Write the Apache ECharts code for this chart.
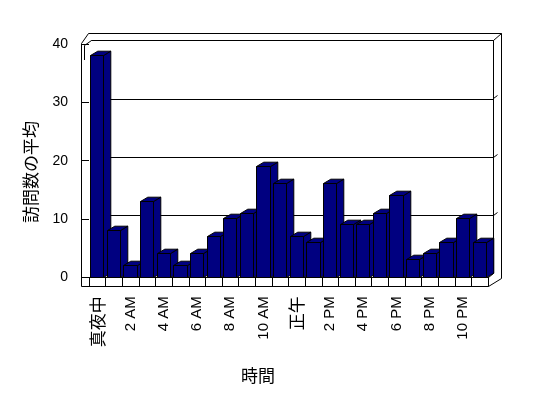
<!DOCTYPE html>
<html>
<head>
<meta charset="utf-8">
<script src="https://cdn.jsdelivr.net/npm/echarts@6/dist/echarts.min.js"></script>
<style>
html,body{margin:0;padding:0;background:#fff;}
#chart{width:548px;height:398px;}
</style>
</head>
<body>
<div id="chart"></div>
<script>
var categories = ['真夜中','1 AM','2 AM','3 AM','4 AM','5 AM','6 AM','7 AM','8 AM','9 AM','10 AM','11 AM',
                  '正午','1 PM','2 PM','3 PM','4 PM','5 PM','6 PM','7 PM','8 PM','9 PM','10 PM','11 PM'];
var visits = [38, 8, 2, 13, 4, 2, 4, 7, 10, 11, 19, 16, 7, 6, 16, 9, 9, 11, 14, 3, 4, 6, 10, 6];
var yMin = 0, yMax = 40, yStep = 10;
var yTicks = [10, 20, 30];
var xTitle = '時間';
var yTitle = '訪問数の平均';

var FONT = '"Liberation Sans", "Noto Sans CJK JP", sans-serif';
var CJK = '"Noto Sans CJK JP", sans-serif';
var NAVY = '#000080';
var DX = 7.3, DY = -4.3;

function r(v){ return Math.round(v - 0.5) + 0.5; }

function renderBar(params, api){
  var i = api.value(0), v = api.value(1);
  var base = api.coord([i, 0]);
  var top = api.coord([i, v]);
  var bw = api.size([1, 0])[0] * 0.8;
  var x0 = r(base[0] - bw / 2), x1 = r(base[0] + bw / 2);
  var yb = r(base[1]), yt = r(top[1]);
  var st = {fill: NAVY, stroke: '#000', lineWidth: 1};
  return {
    type: 'group',
    children: [
      {type: 'polygon', shape: {points: [[x1, yb], [x1 + DX, yb + DY], [x1 + DX, yt + DY], [x1, yt]]}, style: st},
      {type: 'polygon', shape: {points: [[x0, yt], [x0 + DX, yt + DY], [x1 + DX, yt + DY], [x1, yt]]}, style: st},
      {type: 'rect', shape: {x: x0, y: yt, width: x1 - x0, height: yb - yt}, style: st}
    ]
  };
}

var frameLines = [
  [[81.5, 43.5], [81.5, 286.5], [488.5, 286.5], [501.5, 278.5], [501.5, 33.5], [88.5, 33.5], [81.5, 43.5]],
  [[84.5, 45.5], [91.5, 40.5], [493.5, 40.5], [493.5, 273.5]],
  [[493.5, 40.5], [501.5, 33.5]],
  [[84.5, 45.5], [84.5, 60]],
  [[488.5, 277.5], [493.5, 273.5]],
  [[488.5, 277.5], [488.5, 286.5]]
];
function frameGraphics(extra){
  var g = frameLines.concat(extra || []).map(function(p){
    return {type: 'polyline', z: 0, silent: true, shape: {points: p}, style: {stroke: '#000', lineWidth: 1, fill: null}};
  });
  g.push({type: 'text', x: 31, y: 172, rotation: Math.PI / 2, z: 10,
    style: {text: yTitle, font: '17px ' + CJK, fill: '#000', align: 'center', verticalAlign: 'middle'}});
  g.push({type: 'text', x: 258, y: 376, z: 10,
    style: {text: xTitle, font: '17px ' + CJK, fill: '#000', align: 'center', verticalAlign: 'middle'}});
  return g;
}

var chart = echarts.init(document.getElementById('chart'), null, {renderer: 'canvas'});
chart.setOption({
  animation: false,
  backgroundColor: '#fff',
  grid: [
    {left: 89, right: 60, top: 44, bottom: 120.7},
    {left: 91.5, right: 54.5, top: 40.5, bottom: 124.5}
  ],
  xAxis: [
    {
      type: 'category', gridIndex: 0, data: categories, boundaryGap: true,
      axisLine: {show: true, lineStyle: {color: '#000', width: 1}},
      axisTick: {show: true, interval: 0, length: 9, lineStyle: {color: '#000'}},
      axisLabel: {
        interval: 1, rotate: 90, margin: 19, color: '#000', fontSize: 15, fontFamily: FONT,
        formatter: function(v){ return /[^\x00-\x7f]/.test(v) ? '{c|' + v + '}' : v; },
        rich: {c: {fontSize: 17, fontFamily: CJK, color: '#000'}}
      },
      splitLine: {show: false}
    },
    {type: 'category', gridIndex: 1, data: categories, show: false}
  ],
  yAxis: [
    {
      type: 'value', gridIndex: 0, min: yMin, max: yMax, interval: yStep,
      axisLine: {show: false},
      axisTick: {show: true, length: 8, lineStyle: {color: '#000'}},
      axisLabel: {margin: 21, color: '#000', fontSize: 14, fontFamily: FONT},
      splitLine: {show: false}
    },
    {
      type: 'value', gridIndex: 1, min: yMin, max: yMax, interval: yStep,
      axisLine: {show: false}, axisTick: {show: false}, axisLabel: {show: false},
      splitLine: {show: true, lineStyle: {color: '#000', width: 1}}
    }
  ],
  graphic: frameGraphics(),
  series: [{
    type: 'custom', xAxisIndex: 0, yAxisIndex: 0, z: 5,
    renderItem: renderBar,
    encode: {x: 0, y: 1},
    data: visits.map(function(v, i){ return [i, v]; })
  }]
});

// small diagonal ticks on the right edge of the back wall, placed with the back-wall axis
var extra = yTicks.map(function(t){
  var y = r(chart.convertToPixel({yAxisIndex: 1}, t));
  return [[493.5, y], [497.5, y - 3]];
});
chart.setOption({graphic: frameGraphics(extra)}, {replaceMerge: ['graphic']});
</script>
</body>
</html>
